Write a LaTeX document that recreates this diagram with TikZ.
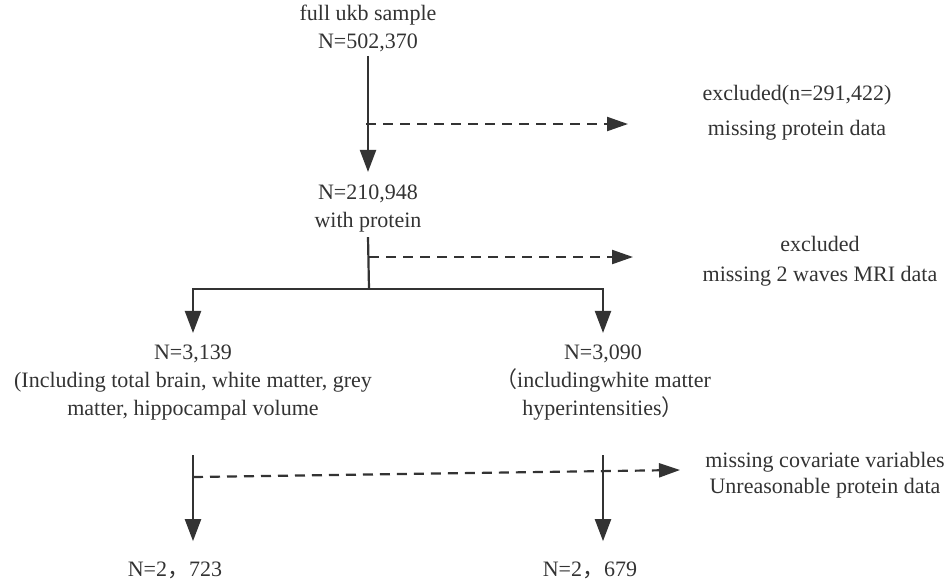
\documentclass[tikz,border=0pt]{standalone}
\usepackage{fontspec}
\setmainfont{Liberation Serif}
\newfontfamily\cjk{Noto Sans CJK SC}
\usepackage{tikz}
\usetikzlibrary{positioning}
\usetikzlibrary{arrows.meta}

\begin{document}
\begin{tikzpicture}[x=0.5pt,y=-0.5pt,
  every node/.style={align=center,font=\fontsize{11}{14}\selectfont,text=black!80,inner sep=2pt},
  link/.style={draw=black!80,line width=1.1pt},
  flow/.style={link,-{Triangle[length=11pt,width=8pt]}},
  skip/.style={link,-{Triangle[length=10.5pt,width=7pt]},dash pattern=on 5pt off 3.5pt}]
\useasboundingbox (0,0) rectangle (946,586);
% main column
\node (full) at (368,28) {full ukb sample\\N=502,370};
\node (prot) at (368,209) {N=210,948\\with protein};
\node (left) at (193,383) {N=3,139\\(Including total brain, white matter, grey\\matter, hippocampal volume};
\node (right) at (603,383) {N=3,090\\{\cjk （}includingwhite matter\\hyperintensities{\cjk ）}};
\node (fl) at (175,570) {N=2{\cjk ，}723};
\node (fr) at (590,570) {N=2{\cjk ，}679};
% exclusions
\node (exa) at (797,113) {excluded(n=291,422)\\[3.5pt]missing protein data};
\node (exb) at (820,261) {excluded\\[1pt]missing 2 waves MRI data};
\node (exc) at (825,475) {missing covariate variables\\[-1pt]Unreasonable protein data};
\coordinate (da) at (366,124);
\coordinate (daend) at (628,124);
\coordinate (db) at (369,257);
\coordinate (dbend) at (633,257);
\coordinate (split) at (369,289);
\coordinate (dc) at (193,477);
\coordinate (dcend) at (680,470);
% connectors
\draw[flow,shorten >=4.5pt] (full.south) -- (prot.north);
\draw[skip] (da) -- (daend);
\draw[link] (prot.south) -- (split);
\draw[skip] (db) -- (dbend);
\draw[flow,shorten >=4pt] (split) -| (left.north);
\draw[flow,shorten >=4pt] (split) -| (right.north);
\draw[flow,shorten <=15pt,shorten >=8pt] (left.south) -- (left.south |- fl.north);
\draw[flow,shorten <=15pt,shorten >=8pt] (right.south) -- (right.south |- fr.north);
\draw[skip] (dc) -- (dcend);
\end{tikzpicture}
\end{document}
